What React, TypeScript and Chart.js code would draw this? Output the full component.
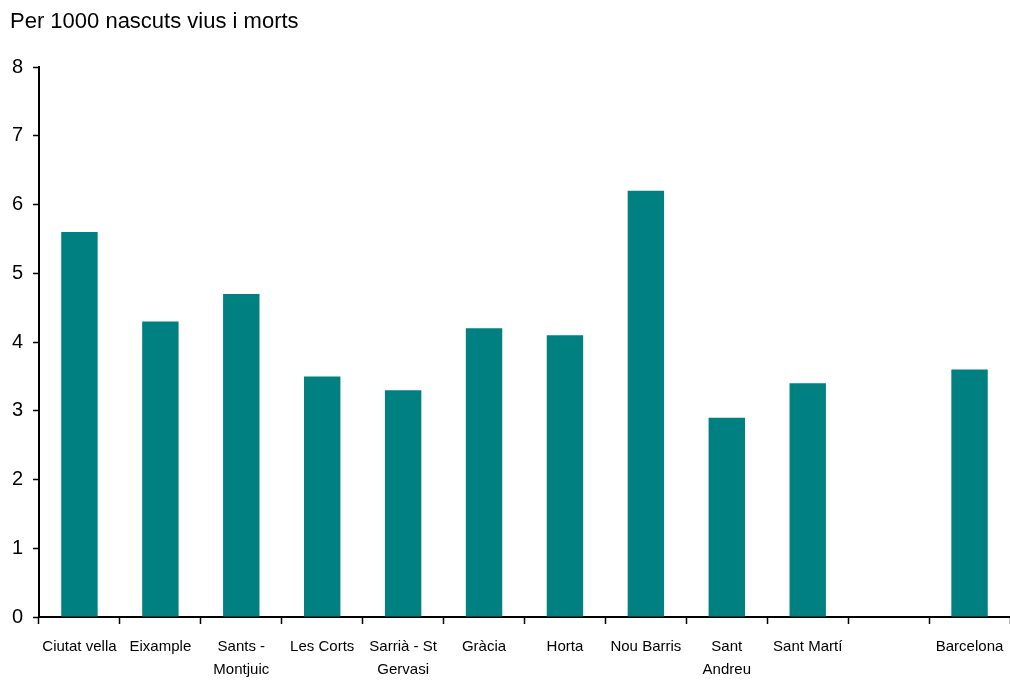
import React, { useEffect, useRef } from "react";
import { Chart, registerables } from "chart.js";

Chart.register(...registerables);

const categories: (string | string[])[] = [
  "Ciutat vella",
  "Eixample",
  ["Sants -", "Montjuic"],
  "Les Corts",
  ["Sarrià - St", "Gervasi"],
  "Gràcia",
  "Horta",
  "Nou Barris",
  ["Sant", "Andreu"],
  "Sant Martí",
  "",
  "Barcelona",
];

const values: (number | null)[] = [5.6, 4.3, 4.7, 3.5, 3.3, 4.2, 4.1, 6.2, 2.9, 3.4, null, 3.6];

const yTicks: number[] = [0, 1, 2, 3, 4, 5, 6, 7, 8];

const titleText = "Per 1000 nascuts vius i morts";

const FONT = "'Liberation Sans', Arial, sans-serif";

export default function App() {
  const ref = useRef<HTMLCanvasElement | null>(null);

  useEffect(() => {
    if (!ref.current) return;
    const chart = new Chart(ref.current, {
      type: "bar",
      data: {
        labels: categories,
        datasets: [
          {
            data: values,
            backgroundColor: "#008080",
            borderWidth: 0,
            categoryPercentage: 1,
            barPercentage: 0.45,
          },
        ],
      },
      options: {
        animation: false,
        responsive: true,
        maintainAspectRatio: false,
        layout: { padding: { left: 10, right: 0, top: 0, bottom: 0 } },
        plugins: {
          legend: { display: false },
          tooltip: { enabled: false },
          title: {
            display: true,
            text: titleText,
            align: "start",
            color: "#000",
            font: { family: FONT, size: 22, weight: "normal", lineHeight: 1.2 },
            padding: { top: 9, bottom: 31.6 },
          },
        },
        scales: {
          x: {
            offset: true,
            grid: {
              offset: true,
              drawOnChartArea: false,
              drawTicks: true,
              tickLength: 7,
              tickColor: "#000",
              tickWidth: 1.5,
            },
            border: { display: true, color: "#000", width: 2 },
            ticks: {
              color: "#000",
              autoSkip: false,
              maxRotation: 0,
              padding: 12,
              font: { family: FONT, size: 15, lineHeight: 1.5 },
            },
            afterFit: (s: any) => {
              s.height = 65;
              s.paddingRight = 0;
              s.paddingLeft = 0;
            },
          },
          y: {
            min: 0,
            max: 8,
            afterBuildTicks: (s: any) => {
              s.ticks = yTicks.map((v) => ({ value: v }));
            },
            grid: {
              drawOnChartArea: false,
              drawTicks: true,
              tickLength: 6,
              tickColor: "#000",
              tickWidth: 1.5,
            },
            border: { display: true, color: "#000", width: 2 },
            ticks: {
              color: "#000",
              padding: 10,
              font: { family: FONT, size: 20 },
            },
            afterFit: (s: any) => {
              s.width = 29;
            },
          },
        },
      },
    });
    return () => chart.destroy();
  }, []);

  return (
    <div style={{ position: "absolute", left: 0, top: 0, width: 1010, height: 682, background: "#fff" }}>
      <canvas ref={ref} />
    </div>
  );
}
